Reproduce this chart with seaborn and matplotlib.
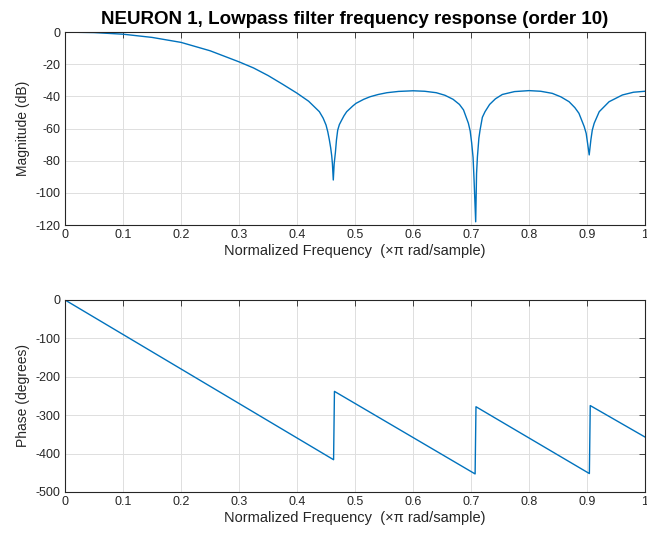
import matplotlib
matplotlib.use("Agg")
import matplotlib.pyplot as plt
import seaborn as sns
import pandas as pd

# ---- data ----
mag_freq = [0.0, 0.05, 0.1, 0.15, 0.2, 0.25, 0.3, 0.325, 0.35, 0.375, 0.4, 0.42, 0.4385, 0.445, 0.45,
            0.453, 0.4557, 0.458, 0.4598, 0.461, 0.4625,
            0.464, 0.4661, 0.468, 0.4701, 0.473, 0.477, 0.481, 0.4856, 0.496, 0.5017, 0.515, 0.526,
            0.54, 0.555, 0.575, 0.6, 0.62, 0.64, 0.655, 0.669, 0.68, 0.687, 0.6954, 0.6985, 0.7011,
            0.7035, 0.7052, 0.708,
            0.7095, 0.711, 0.7135, 0.7155, 0.7195, 0.7241, 0.732, 0.742, 0.7539, 0.775, 0.8, 0.82, 0.84,
            0.855, 0.869, 0.879, 0.886, 0.8951, 0.8985, 0.9009, 0.9037,
            0.9066, 0.909, 0.9123, 0.921, 0.938, 0.961, 0.98, 1.0]
mag_db = [0.0, -0.3, -1.3, -3.3, -6.4, -11.6, -18.5, -22.3, -27.0, -32.4, -38.0, -43.0, -49.5, -53.5, -57.8,
          -62.0, -67.0, -72.0, -77.0, -82.0, -92.0,
          -82.0, -75.0, -67.0, -61.0, -57.5, -54.7, -52.0, -49.5, -46.0, -44.3, -41.8, -40.2,
          -38.8, -37.7, -36.9, -36.5, -36.8, -37.7, -39.3, -41.8, -45.0, -48.4, -56.7, -61.5, -69.0,
          -78.0, -92.0, -118.0,
          -88.0, -77.5, -66.0, -61.0, -53.0, -49.5, -45.0, -41.5, -38.8, -37.0, -36.4, -36.8, -38.1,
          -40.3, -43.3, -47.0, -50.5, -58.8, -63.0, -69.1, -76.4,
          -67.0, -61.0, -56.7, -49.5, -43.3, -39.1, -37.4, -36.8]

phase_freq = [0.0, 0.463, 0.4645, 0.707, 0.7085, 0.904, 0.9055, 1.0]
phase_deg = [0.0, -416.0, -238.0, -453.0, -278.0, -452.0, -275.0, -357.0]

freq_ticks = [0, 0.1, 0.2, 0.3, 0.4, 0.5, 0.6, 0.7, 0.8, 0.9, 1]
freq_ticklabels = ["0", "0.1", "0.2", "0.3", "0.4", "0.5", "0.6", "0.7", "0.8", "0.9", "1"]
mag_ticks = [0, -20, -40, -60, -80, -100, -120]
phase_ticks = [0, -100, -200, -300, -400, -500]

title = "NEURON 1, Lowpass filter frequency response (order 10)"
xlabel = "Normalized Frequency  (\u00d7\u03c0 rad/sample)"

# ---- styling ----
sns.set_theme(style="white")
plt.rcParams["font.family"] = ["Liberation Sans", "DejaVu Sans"]
line_color = "#0072BD"

fig = plt.figure(figsize=(6.47, 5.35), dpi=100)
ax1 = fig.add_axes([0.1005, 0.5794, 0.8965, 0.3606])
ax2 = fig.add_axes([0.1005, 0.0804, 0.8965, 0.3589])

df_mag = pd.DataFrame({"f": mag_freq, "m": mag_db})
df_ph = pd.DataFrame({"f": phase_freq, "p": phase_deg})

sns.lineplot(data=df_mag, x="f", y="m", ax=ax1, color=line_color, linewidth=1.0,
             sort=False, estimator=None)
sns.lineplot(data=df_ph, x="f", y="p", ax=ax2, color=line_color, linewidth=1.0,
             sort=False, estimator=None)

for ax, yt, ylab, ylim in [(ax1, mag_ticks, "Magnitude (dB)", (-120, 0)),
                           (ax2, phase_ticks, "Phase (degrees)", (-500, 0))]:
    ax.set_xlim(0, 1)
    ax.set_ylim(*ylim)
    ax.set_xticks(freq_ticks)
    ax.set_xticklabels(freq_ticklabels)
    ax.set_yticks(yt)
    ax.set_yticklabels([str(v) for v in yt])
    ax.grid(True, color="#dedede", linewidth=0.7)
    ax.set_axisbelow(True)
    ax.tick_params(direction="in", top=True, right=True, length=4, width=0.6,
                   labelsize=9, colors="#262626", pad=3)
    for s in ax.spines.values():
        s.set_color("#262626")
        s.set_linewidth(0.8)
    ax.set_xlabel(xlabel, fontsize=10.5, color="#262626", labelpad=2)
    ax.set_ylabel(ylab, fontsize=10, color="#262626", labelpad=4)

ax1.set_title(title, fontsize=13.5, fontweight="bold", color="#000000", pad=6)

fig.savefig("out.png", dpi=100)
